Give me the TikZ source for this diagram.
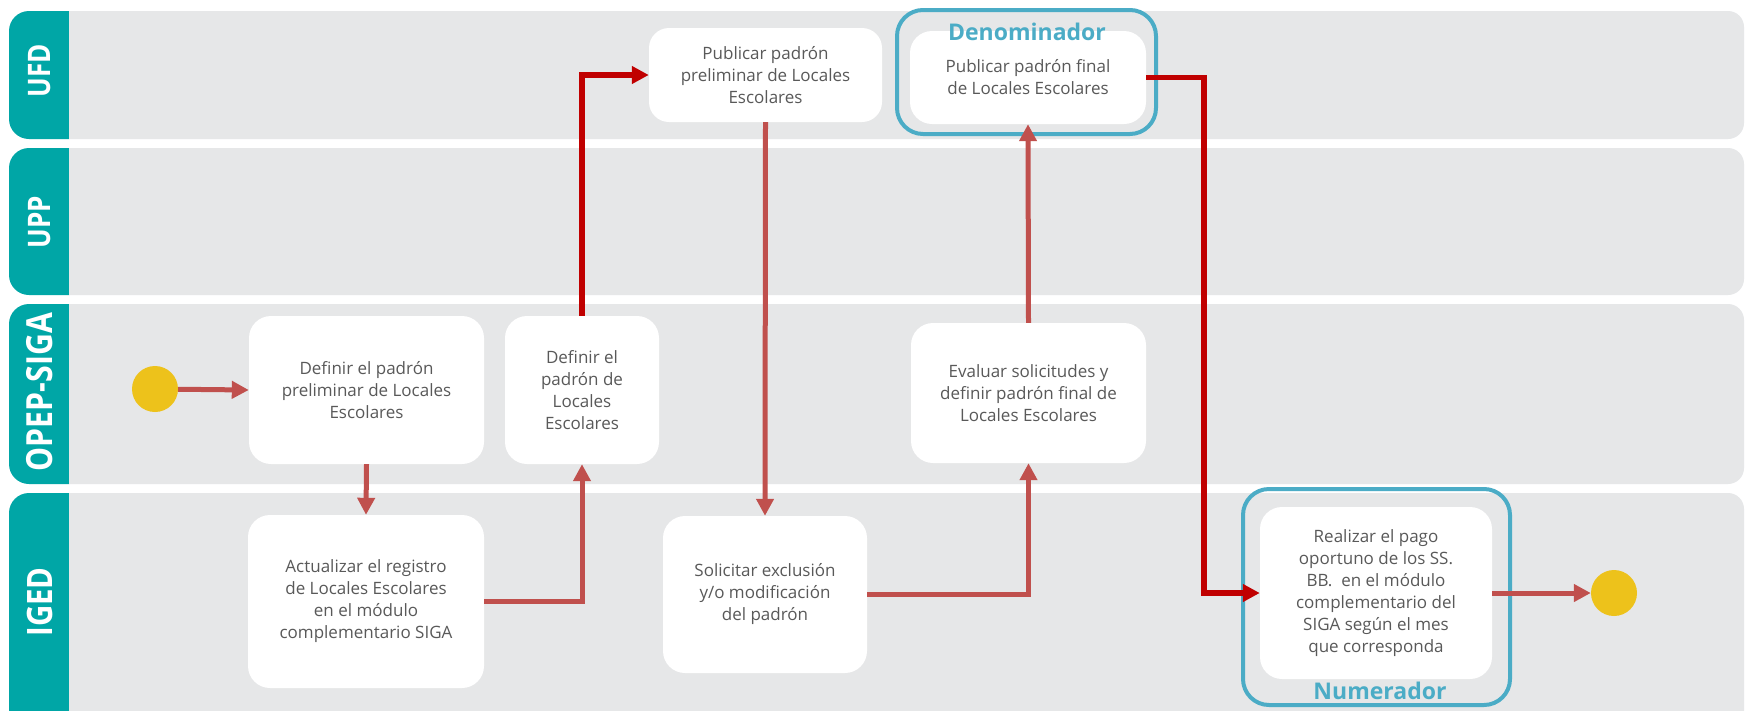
\documentclass[tikz,border=0pt]{standalone}
\usepackage{fontspec}
\setmainfont{Open Sans}
\newfontfamily\lanefont[FakeStretch=0.84]{Open Sans}
\usetikzlibrary{arrows.meta}
\definecolor{lanegray}{HTML}{E6E7E8}
\definecolor{laneteal}{HTML}{00A6A6}
\definecolor{txtgray}{HTML}{595959}
\definecolor{mutedred}{HTML}{C0504D}
\definecolor{brightred}{HTML}{C00000}
\definecolor{frameblue}{HTML}{4BACC6}
\definecolor{dotyellow}{HTML}{EDC21B}
\tikzset{
  task/.style={fill=white, rounded corners=22pt, align=center, text=txtgray,
    font=\fontsize{17}{22}\selectfont, inner sep=0pt},
  frame/.style={draw=frameblue, line width=4pt, rounded corners=26pt, inner sep=0pt},
  framelabel/.style={text=frameblue, font=\bfseries\fontsize{23}{23}\selectfont, inner sep=0pt},
  lanelabel/.style={text=white, rotate=90, inner sep=0pt},
  dot/.style={circle, fill=dotyellow, minimum size=46pt, inner sep=0pt},
  conn/.style={draw=mutedred, line width=5pt, -{Triangle[length=17pt,width=17pt]}},
  connB/.style={draw=brightred, line width=5.5pt, -{Triangle[length=17pt,width=17pt]}},
}
\newcommand\mylane[2]{%
  \begin{scope}
    \clip (9,#1) rectangle (69,#2);
    \fill[laneteal, rounded corners=20pt] (9,#1) rectangle (120,#2);
  \end{scope}
  \begin{scope}
    \clip (69,0) rectangle (1746,720);
    \fill[lanegray, rounded corners=16pt] (20,#1) rectangle (1744,#2);
  \end{scope}}
\begin{document}
\begin{tikzpicture}[x=1pt,y=-1pt]
\useasboundingbox (0,0) rectangle (1746,710);
\fill[white] (0,0) rectangle (1746,710);
% lanes
\mylane{11}{139}
\mylane{148}{295}
\mylane{304}{484}
\mylane{493}{730}
\node[lanelabel, font=\lanefont\bfseries\fontsize{31}{31}\selectfont] (lUFD) at (40,71) {UFD};
\node[lanelabel, font=\lanefont\bfseries\fontsize{31}{31}\selectfont] (lUPP) at (40,222) {UPP};
\node[lanelabel, font=\lanefont\bfseries\fontsize{36}{36}\selectfont] (lOPEP) at (40,392) {OPEP-SIGA};
\node[lanelabel, font=\lanefont\bfseries\fontsize{35}{35}\selectfont] (lIGED) at (40,602) {IGED};
% frames
\node[frame, minimum width=259pt, minimum height=124pt] (dOuter) at (1026.5,72) {};
\node[frame, minimum width=267pt, minimum height=216pt] (nOuter) at (1376.5,597) {};
% tasks
\node[task, minimum width=233pt, minimum height=94pt, rounded corners=20pt] (n1) at (765.5,75)
  {Publicar padrón\\preliminar de Locales\\Escolares};
\node[task, minimum width=236pt, minimum height=93pt] (dInner) at (1028,77.5)
  {Publicar padrón final\\de Locales Escolares};
\node[task, minimum width=235pt, minimum height=148pt] (n3) at (366.5,390)
  {Definir el padrón\\preliminar de Locales\\Escolares};
\node[task, minimum width=154pt, minimum height=148pt] (n4) at (582,390)
  {Definir el\\padrón de\\Locales\\Escolares};
\node[task, minimum width=235pt, minimum height=140pt] (n5) at (1028.5,393)
  {Evaluar solicitudes y\\definir padrón final de\\Locales Escolares};
\node[task, minimum width=236pt, minimum height=173pt] (n7) at (366,601.5)
  {Actualizar el registro\\de Locales Escolares\\en el módulo\\complementario SIGA};
\node[task, minimum width=204pt, minimum height=157pt] (n8) at (765,594.5)
  {Solicitar exclusión\\y/o modificación\\del padrón};
\node[task, minimum width=232pt, minimum height=172pt] (nInner) at (1376,593)
  {Realizar el pago\\oportuno de los SS.\\BB.\ \ en el módulo\\complementario del\\SIGA según el mes\\que corresponda};
\node[framelabel] (tDen) at (1027,32) {Denominador};
\node[framelabel] (tNum) at (1380,691) {Numerador};
% events
\node[dot] (start) at (155,389) {};
\node[dot] (end) at (1614,593) {};
% connectors
\coordinate (hx) at (1204,0);
\draw[conn] (start) -- (n3.west);
\draw[conn] (n3.south) -- (n7.north);
\draw[conn] (n7.east) -| (n4.south);
\draw[connB] (n4.north) |- (n1.west);
\draw[conn] (n1.south) -- (n8.north);
\draw[conn] (n8.east) -| (n5.south);
\draw[conn] (n5.north) -- (dInner.south);
\draw[connB] (dInner.east) -- (dInner.east -| hx) |- (nInner.west);
\draw[conn] (nInner.east) -- (end);
\end{tikzpicture}
\end{document}
